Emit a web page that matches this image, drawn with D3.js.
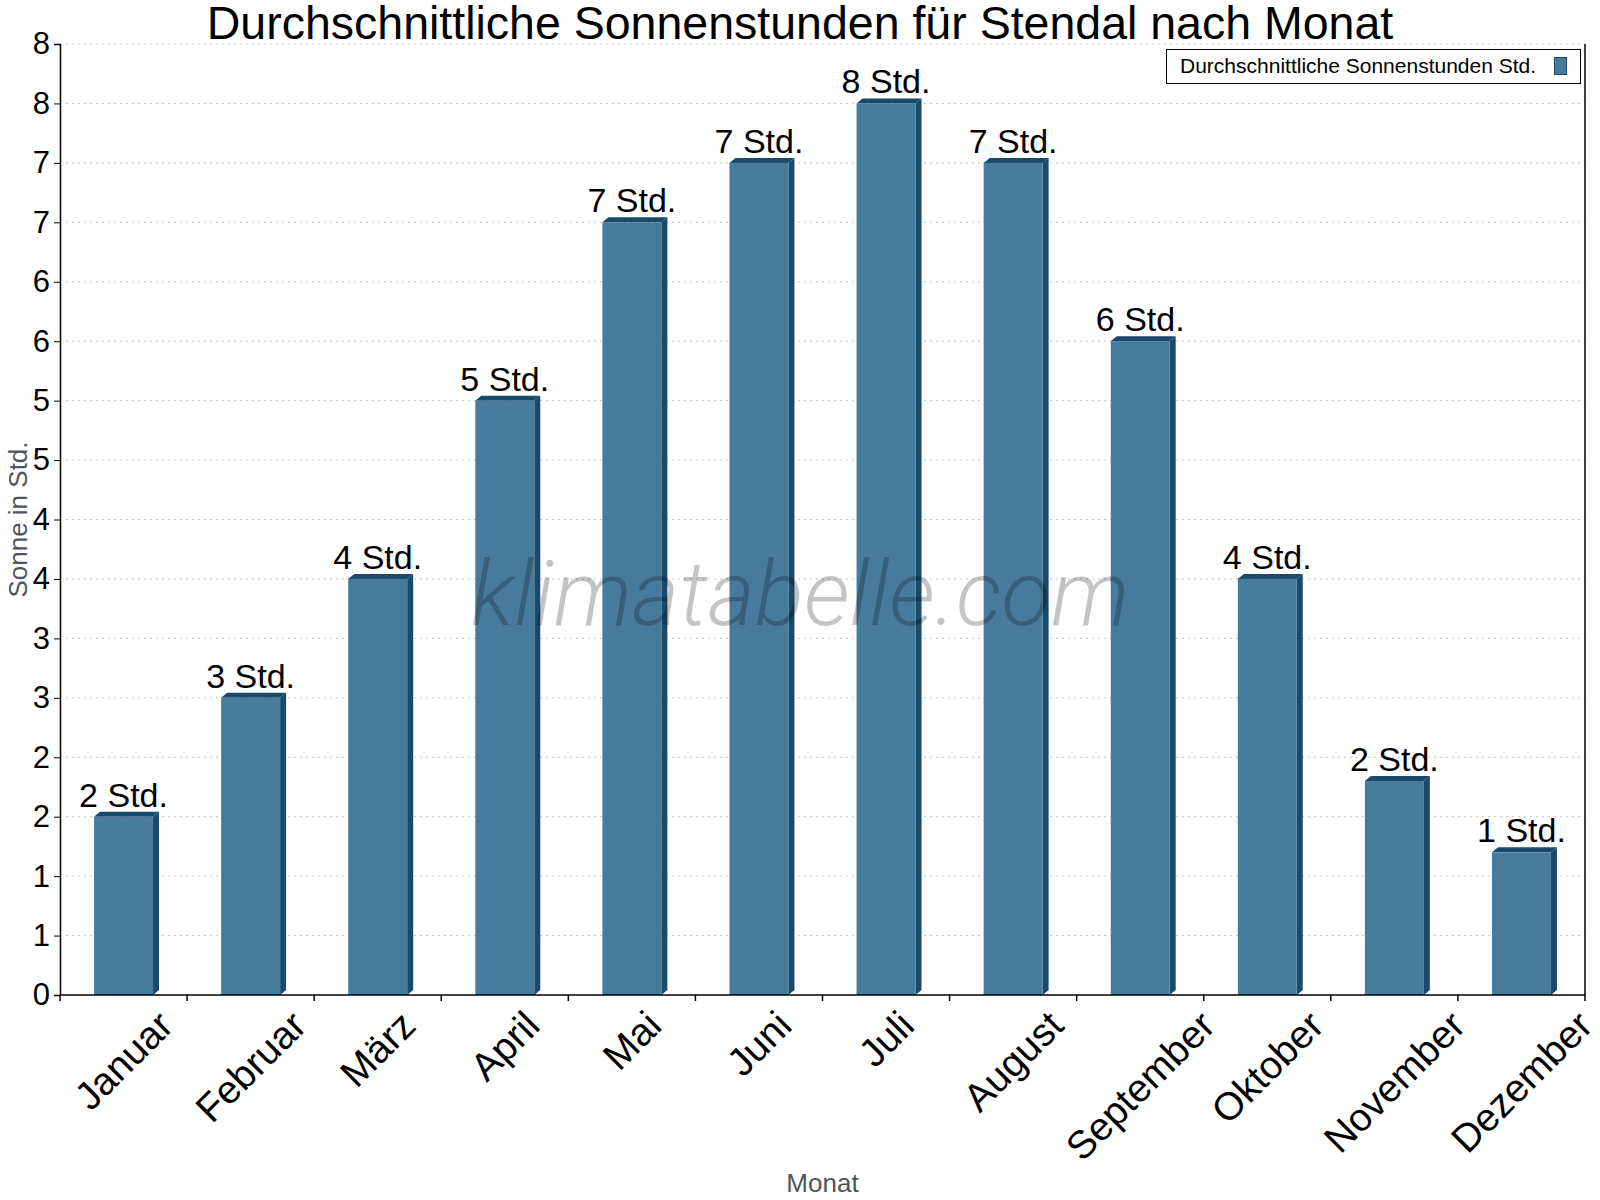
<!DOCTYPE html>
<html>
<head>
<meta charset="utf-8">
<script src="https://cdn.jsdelivr.net/npm/d3@7"></script>
<style>
  body { margin: 0; background: #fff; }
  text { font-family: "Liberation Sans", Arial, sans-serif; }
</style>
</head>
<body>
<svg id="chart" width="1600" height="1200"></svg>
<script>
// data
const months = ["Januar", "Februar", "März", "April", "Mai", "Juni", "Juli", "August", "September", "Oktober", "November", "Dezember"];
const sunHours = [1.5, 2.5, 3.5, 5.0, 6.5, 7.0, 7.5, 7.0, 5.5, 3.5, 1.8, 1.2];
const yTicks = d3.range(0, 8.01, 0.5);

const svg = d3.select("#chart");
const margin = {left: 60, right: 15, top: 44, bottom: 205};
const W = 1600, H = 1200;

const x = d3.scaleBand().domain(months).range([margin.left, W - margin.right]);
const y = d3.scaleLinear().domain([0, 8]).range([H - margin.bottom, margin.top]);

const front = "#467b9c", dark = "#1a4a6b";
const barW = x.bandwidth() * 0.464;
const dx = 6, dy = 5;

// grid
svg.append("g").selectAll("line").data(yTicks.filter(d => d > 0)).join("line")
  .attr("x1", margin.left).attr("x2", W - margin.right)
  .attr("y1", d => y(d)).attr("y2", d => y(d))
  .attr("stroke", "#c4c4c4").attr("stroke-dasharray", "2,4");

// bars
const bars = svg.append("g").selectAll("g").data(months).join("g");
bars.each(function(m, i) {
  const g = d3.select(this);
  const x0 = x(m) + (x.bandwidth() - barW) / 2, x1 = x0 + barW;
  const yt = y(sunHours[i]), y0 = y(0);
  g.append("path")
    .attr("d", `M${x1},${yt} L${x1 + dx},${yt - dy} L${x1 + dx},${y0 - dy} L${x1},${y0} Z`)
    .attr("fill", dark);
  g.append("path")
    .attr("d", `M${x0},${yt} L${x0 + dx},${yt - dy} L${x1 + dx},${yt - dy} L${x1},${yt} Z`)
    .attr("fill", dark);
  g.append("rect")
    .attr("x", x0).attr("y", yt).attr("width", barW).attr("height", y0 - yt)
    .attr("fill", front);
  g.append("text")
    .attr("x", x0 + barW / 2).attr("y", yt - 10)
    .attr("text-anchor", "middle")
    .style("font-size", "34px")
    .text(Math.round(sunHours[i]) + " Std.");
});

// watermark, over the bars
svg.append("text")
  .attr("x", 800).attr("y", 625)
  .attr("text-anchor", "middle")
  .style("font-family", "Roboto, 'Open Sans', sans-serif")
  .style("font-weight", 300)
  .style("font-style", "italic")
  .style("font-size", "91px")
  .attr("fill", "rgba(0,0,0,0.23)")
  .text("klimatabelle.com");

// y axis
const yAxis = svg.append("g")
  .attr("transform", `translate(${margin.left},0)`)
  .call(d3.axisLeft(y).tickValues(yTicks).tickFormat(d => Math.round(d)).tickSize(6).tickPadding(4));
yAxis.select(".domain").attr("stroke", "#000").attr("stroke-width", 1.5);
yAxis.selectAll("text").style("font-size", "31px").attr("fill", "#000")
  .style("font-family", "'Liberation Sans', Arial, sans-serif");

// right border
svg.append("line")
  .attr("x1", W - margin.right).attr("x2", W - margin.right)
  .attr("y1", margin.top).attr("y2", y(0))
  .attr("stroke", "#000").attr("stroke-width", 1.5);

// x axis
const bounds = months.map(m => x(m)).concat([W - margin.right]);
svg.append("line")
  .attr("x1", margin.left).attr("x2", W - margin.right)
  .attr("y1", y(0)).attr("y2", y(0))
  .attr("stroke", "#000").attr("stroke-width", 1.5);
svg.append("g").selectAll("line").data(bounds).join("line")
  .attr("x1", d => d).attr("x2", d => d)
  .attr("y1", y(0)).attr("y2", y(0) + 6)
  .attr("stroke", "#000").attr("stroke-width", 1.5);

const fsX = 39;
const xl = svg.append("g").selectAll("text").data(months).join("text")
  .attr("text-anchor", "middle")
  .attr("dominant-baseline", "central")
  .style("font-size", fsX + "px")
  .text(d => d);
xl.each(function(m) {
  const L = this.getComputedTextLength();
  const h = fsX * 0.75;
  const cx = x(m) + x.bandwidth() / 2;
  const cy = 1008 + (L + h) / (2 * Math.SQRT2);
  d3.select(this).attr("transform", `translate(${cx},${cy}) rotate(-45)`);
});

// axis titles
svg.append("text")
  .attr("x", (margin.left + W - margin.right) / 2).attr("y", 1192)
  .attr("text-anchor", "middle").attr("fill", "#50555c")
  .style("font-size", "26px").text("Monat");
svg.append("text")
  .attr("transform", `translate(27,${(y(0) + y(8)) / 2}) rotate(-90)`)
  .attr("text-anchor", "middle").attr("fill", "#50555c")
  .style("font-size", "26px").text("Sonne in Std.");

// title
svg.append("text")
  .attr("x", 800).attr("y", 39)
  .attr("text-anchor", "middle")
  .style("font-size", "46.5px")
  .text("Durchschnittliche Sonnenstunden für Stendal nach Monat");

// legend
const lg = svg.append("g");
lg.append("rect")
  .attr("x", 1166.5).attr("y", 49.5).attr("width", 414).attr("height", 34)
  .attr("fill", "#fff").attr("stroke", "#000");
lg.append("text")
  .attr("x", 1180).attr("y", 73)
  .style("font-size", "21px")
  .text("Durchschnittliche Sonnenstunden Std.");
lg.append("rect")
  .attr("x", 1554.5).attr("y", 57.5).attr("width", 12).attr("height", 17)
  .attr("fill", front).attr("stroke", dark);
</script>
</body>
</html>
